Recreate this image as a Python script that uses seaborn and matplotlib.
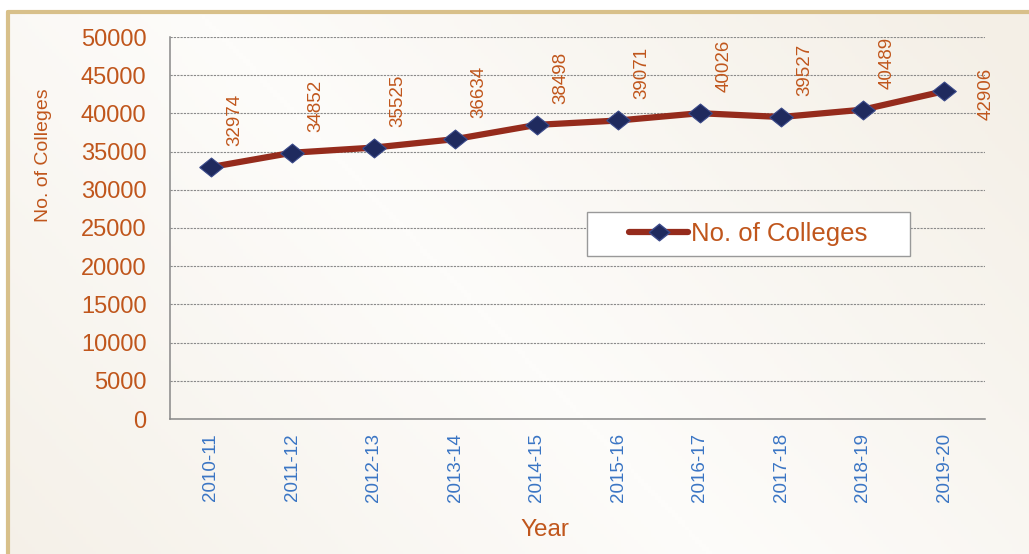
import matplotlib
matplotlib.use("Agg")
import matplotlib.pyplot as plt
import seaborn as sns
import pandas as pd
import numpy as np
from matplotlib.patches import Rectangle
from matplotlib.lines import Line2D
from matplotlib.colors import LinearSegmentedColormap

years = ["2010-11", "2011-12", "2012-13", "2013-14", "2014-15",
         "2015-16", "2016-17", "2017-18", "2018-19", "2019-20"]
colleges = [32974, 34852, 35525, 36634, 38498, 39071, 40026, 39527, 40489, 42906]
y_ticks = [0, 5000, 10000, 15000, 20000, 25000, 30000, 35000, 40000, 45000, 50000]

df = pd.DataFrame({"Year": years, "No. of Colleges": colleges})

sns.set_theme(style="white")
plt.rcParams['font.family'] = ['Liberation Sans', 'DejaVu Sans']

ORANGE = "#c0561c"
BLUE = "#3a75c4"
LINE = "#952b1c"
MARK = "#1f2a5e"
DIAMOND = [(-1, 0), (0, 0.8), (1, 0), (0, -0.8), (-1, 0)]

fig = plt.figure(figsize=(10.29, 5.54), dpi=100, facecolor="white")

# cream background panel with subtle gradient and tan frame
bg = fig.add_axes([8/1029, 0, 1 - 8/1029, 1 - 12/554], zorder=-20)
gx = np.linspace(0, 1, 300)
gy = np.linspace(0, 1, 160)
X, Y = np.meshgrid(gx, gy)
grad = np.clip(1 - np.abs((X * 0.8 + Y * 0.4) - 0.55) * 1.6, 0, 1)
cmap = LinearSegmentedColormap.from_list("cream", ["#f4efe6", "#fdfcfa"])
bg.imshow(grad, cmap=cmap, aspect="auto", extent=(0, 1, 0, 1), origin="lower")
bg.set_xlim(0, 1)
bg.set_ylim(0, 1)
bg.axis("off")
fig.add_artist(Line2D([8/1029, 8/1029], [0, 1 - 12/554], transform=fig.transFigure,
                      color="#d8c08a", linewidth=3))
fig.add_artist(Line2D([8/1029, 1], [1 - 12/554, 1 - 12/554], transform=fig.transFigure,
                      color="#d8c08a", linewidth=3))

ax = fig.add_axes([170/1029, 1 - 419/554, (985 - 170)/1029, (419 - 37)/554])
ax.set_facecolor((1, 1, 1, 0))

sns.lineplot(data=df, x="Year", y="No. of Colleges", ax=ax, color=LINE, linewidth=4.5,
             marker=DIAMOND, markersize=17, markerfacecolor=MARK, markeredgecolor="#3b4a8a",
             markeredgewidth=0.8, sort=False, legend=False, zorder=3)

ax.set_xlim(-0.5, len(years) - 0.5)
ax.set_ylim(0, 50000)
ax.set_yticks(y_ticks)
ax.set_yticklabels([str(v) for v in y_ticks], color=ORANGE, fontsize=17)
ax.set_xticks(range(len(years)))
ax.set_xticklabels(years, rotation=90, color=BLUE, fontsize=13.5)
ax.set_xticks([i - 0.5 for i in range(len(years) + 1)], minor=True)
ax.tick_params(axis="x", which="major", length=0, pad=10)
ax.tick_params(axis="x", which="minor", length=4, color="#888888", width=1.1, direction="out")
ax.tick_params(axis="y", length=6, color="#888888", width=1.1, direction="out", pad=11)

ax.grid(axis="y", color="#8a8a8a", linestyle=(0, (2, 1)), linewidth=0.8)
ax.set_axisbelow(True)
for s in ["top", "right"]:
    ax.spines[s].set_visible(False)
for s in ["left", "bottom"]:
    ax.spines[s].set_color("#888888")
    ax.spines[s].set_linewidth(1.1)

ax.set_xlabel("Year", color=ORANGE, fontsize=17.5)
ax.xaxis.set_label_coords((545 - 170)/815, (419 - 519)/382)
ax.set_ylabel("No. of Colleges", color=ORANGE, fontsize=14)
ax.yaxis.set_label_coords((52 - 170)/815, (419 - 155)/382)

for i, v in enumerate(colleges):
    if i == len(colleges) - 1:
        ax.annotate(str(v), (i, v), xytext=(42, -3), textcoords="offset pixels",
                    rotation=90, ha="center", va="center", color=ORANGE, fontsize=13.5)
    else:
        ax.annotate(str(v), (i, v), xytext=(24, 21), textcoords="offset pixels",
                    rotation=90, ha="center", va="bottom", color=ORANGE, fontsize=13.5)

# legend: frame box and entry
ax.add_patch(Rectangle(((587 - 170)/815, (419 - 256)/382), (910 - 587)/815, 44/382,
                       transform=ax.transAxes, facecolor="white", edgecolor="#999999",
                       linewidth=1.0, zorder=4))
handle = Line2D([], [], color=LINE, linewidth=4.5, marker=DIAMOND, markersize=15,
                markerfacecolor=MARK, markeredgecolor="#3b4a8a")
leg = ax.legend([handle], ["No. of Colleges"], loc="center left",
                bbox_to_anchor=((629 - 170)/815, (419 - 234)/382),
                fontsize=18.5, frameon=False, borderpad=0, handlelength=2.3,
                handletextpad=0.1, borderaxespad=0)
leg.set_zorder(5)
for t in leg.get_texts():
    t.set_color(ORANGE)

fig.savefig("out.png", dpi=100, facecolor=fig.get_facecolor())
